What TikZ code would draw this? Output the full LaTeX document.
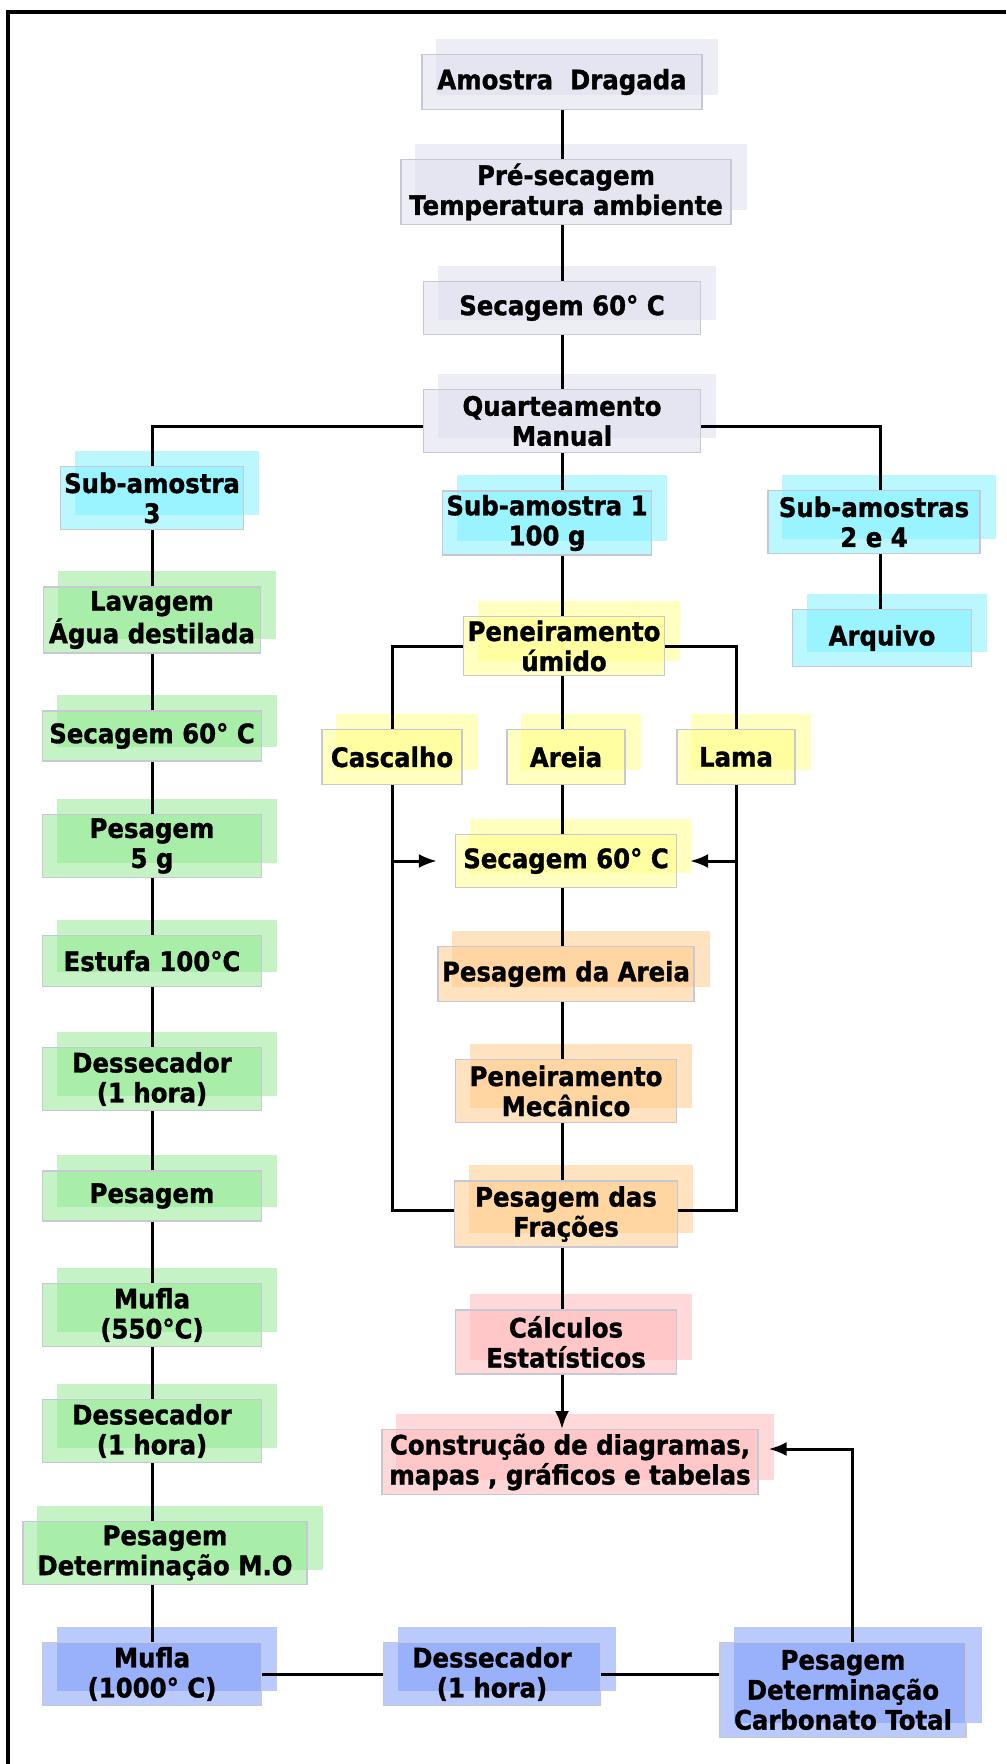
\documentclass[tikz,border=0pt]{standalone}
\usepackage{fontspec}
\setmainfont{DejaVu Sans}[FakeStretch=0.91, BoldFeatures={FakeBold=1.2}]
\usetikzlibrary{arrows.meta,backgrounds}

\definecolor{lavfill}{RGB}{220,220,238}
\definecolor{cyanfill}{RGB}{120,240,255}
\definecolor{greenfill}{RGB}{140,232,140}
\definecolor{yellowfill}{RGB}{255,255,130}
\definecolor{orangefill}{RGB}{255,200,130}
\definecolor{pinkfill}{RGB}{255,180,180}
\definecolor{bluefill}{RGB}{120,150,250}
\definecolor{boxline}{RGB}{200,200,212}

\tikzset{
  box/.style={draw=boxline, line width=0.6pt, fill opacity=0.5, text opacity=1,
    align=center, inner sep=2pt, font=\bfseries\fontsize{13.4pt}{15pt}\selectfont},
  sz/.style 2 args={minimum width=#1*0.5pt, minimum height=#2*0.5pt},
  lavbox/.style={box, fill=lavfill},
  cyanbox/.style={box, fill=cyanfill},
  greenbox/.style={box, fill=greenfill},
  yellowbox/.style={box, fill=yellowfill},
  orangebox/.style={box, fill=orangefill},
  pinkbox/.style={box, fill=pinkfill},
  bluebox/.style={box, fill=bluefill},
  line/.style={line width=1.5pt},
  arr/.style={line, -{Latex[length=9pt,width=7pt]}}
}

\begin{document}
\begin{tikzpicture}[x=0.5pt,y=0.5pt,yscale=-1]
\useasboundingbox (0,0) rectangle (1006,1764);

% frame
\draw[line width=2pt] (8,1764) -- (8,12) -- (1006,12);

% column guides
\coordinate (ccol) at (562,0);
\coordinate (lcol) at (152,0);
\coordinate (rcol) at (880,0);

% central column
\node[lavbox, sz={280}{55}] (amostra) at (562,82) {Amostra\ \ Dragada};
\node[lavbox, sz={330}{65}] (presec) at (566,192) {Pré-secagem\\Temperatura ambiente};
\node[lavbox, sz={277}{53}] (sec1) at (562,308) {Secagem 60° C};
\node[lavbox, sz={277}{63}] (quart) at (562,421) {Quarteamento\\Manual};
\node[cyanbox, sz={206}{63}] (sub1) at (547,523) {Sub-amostra 1\\100 g};
\node[yellowbox, sz={195}{57}] (penU) at (564,646) {Peneiramento\\úmido};
\node[yellowbox, sz={140}{55}] (casc) at (392,757) {Cascalho};
\node[yellowbox, sz={118}{55}] (areia) at (566,757) {Areia};
\node[yellowbox, sz={118}{55}] (lama) at (736,757) {Lama};
\node[yellowbox, sz={221}{53}] (sec2) at (566,861) {Secagem 60° C};
\node[orangebox, sz={247}{55}] (pesA) at (566,974) {Pesagem da Areia};
\node[orangebox, sz={221}{63}] (penM) at (566,1091) {Peneiramento\\Mecânico};
\node[orangebox, sz={223}{66}] (pesF) at (566,1214) {Pesagem das\\Frações};
\node[pinkbox, sz={221}{64}] (calc) at (566,1342) {Cálculos\\Estatísticos};
\node[pinkbox, sz={376}{63}] (constr) at (570,1462) {Construção de diagramas,\\mapas , gráficos e tabelas};

% right column
\node[cyanbox, sz={212}{63}] (sub24) at (874,522) {Sub-amostras\\2 e 4};
\node[cyanbox, sz={179}{57}] (arq) at (882,638) {Arquivo};

% left column
\node[cyanbox, sz={179}{63}] (sub3) at (152,498) {Sub-amostra\\3};
\node[greenbox, sz={217}{63}] (lav) at (152,620) {Lavagem\\Água destilada};
\node[greenbox, sz={219}{50}] (secL) at (152,736) {Secagem 60° C};
\node[greenbox, sz={219}{60}] (pes5) at (152,846) {Pesagem\\5 g};
\node[greenbox, sz={219}{51}] (estufa) at (152,961) {Estufa 100°C};
\node[greenbox, sz={219}{63}] (dess1) at (152,1079) {Dessecador\\(1 hora)};
\node[greenbox, sz={219}{50}] (pesg) at (152,1196) {Pesagem};
\node[greenbox, sz={219}{63}] (mufla1) at (152,1315) {Mufla\\(550°C)};
\node[greenbox, sz={219}{63}] (dess2) at (152,1431) {Dessecador\\(1 hora)};
\node[greenbox, sz={284}{63}] (pesMO) at (165,1553) {Pesagem\\Determinação M.O};

% bottom row
\node[bluebox, sz={219}{63}] (mufla2) at (152,1674) {Mufla\\(1000° C)};
\node[bluebox, sz={217}{63}] (dessB) at (492,1674) {Dessecador\\(1 hora)};
\node[bluebox, sz={246}{95}] (pesC) at (843,1690) {Pesagem\\Determinação\\Carbonato Total};

% offset shadows
\begin{scope}[on background layer]
\foreach \n/\c in {amostra/lavfill, presec/lavfill, sec1/lavfill, quart/lavfill,
    sub1/cyanfill, sub3/cyanfill, sub24/cyanfill, arq/cyanfill,
    penU/yellowfill, casc/yellowfill, areia/yellowfill, lama/yellowfill, sec2/yellowfill,
    pesA/orangefill, penM/orangefill, pesF/orangefill, calc/pinkfill, constr/pinkfill,
    lav/greenfill, secL/greenfill, pes5/greenfill, estufa/greenfill, dess1/greenfill,
    pesg/greenfill, mufla1/greenfill, dess2/greenfill, pesMO/greenfill,
    mufla2/bluefill, dessB/bluefill, pesC/bluefill}
  \fill[\c, fill opacity=0.5] ([shift={(15,-15)}]\n.south west) rectangle ([shift={(15,-15)}]\n.north east);
\end{scope}

% central connectors
\foreach \a/\b in {amostra/presec, presec/sec1, sec1/quart, quart/sub1, sub1/penU,
    penU/areia, areia/sec2, sec2/pesA, pesA/penM, penM/pesF, pesF/calc}
  \draw[line] (\a.south -| ccol) -- (\b.north -| ccol);
\draw[arr] (calc.south -| ccol) -- (constr.north -| ccol);

% quarteamento branches
\draw[line] ([yshift=3pt]quart.west) -| (sub3.north);
\draw[line] ([yshift=3pt]quart.east) -| (sub24.north -| rcol);
\draw[line] (sub24.south -| rcol) -- (arq.north -| rcol);

% peneiramento branches
\draw[line] (penU.west) -| (casc.north);
\draw[line] (penU.east) -| (lama.north);
\draw[line] (casc.south) |- ([yshift=-2pt]pesF.west);
\draw[line] (lama.south) |- ([yshift=-2pt]pesF.east);
\draw[arr] (casc.south |- sec2.west) -- ([xshift=-9pt]sec2.west);
\draw[arr] (lama.south |- sec2.east) -- ([xshift=6.5pt]sec2.east);

% left connectors
\foreach \a/\b in {sub3/lav, lav/secL, secL/pes5, pes5/estufa, estufa/dess1, dess1/pesg,
    pesg/mufla1, mufla1/dess2, dess2/pesMO, pesMO/mufla2}
  \draw[line] (\a.south -| lcol) -- (\b.north -| lcol);

% bottom connectors
\draw[line] (mufla2.east) -- (dessB.west);
\draw[line] (dessB.east) -- (dessB.east -| pesC.west);
\coordinate (cin) at ([xshift=5pt,yshift=-6.5pt]constr.east);
\draw[arr] ([xshift=4.5pt]pesC.north) |- (cin);

\end{tikzpicture}
\end{document}
